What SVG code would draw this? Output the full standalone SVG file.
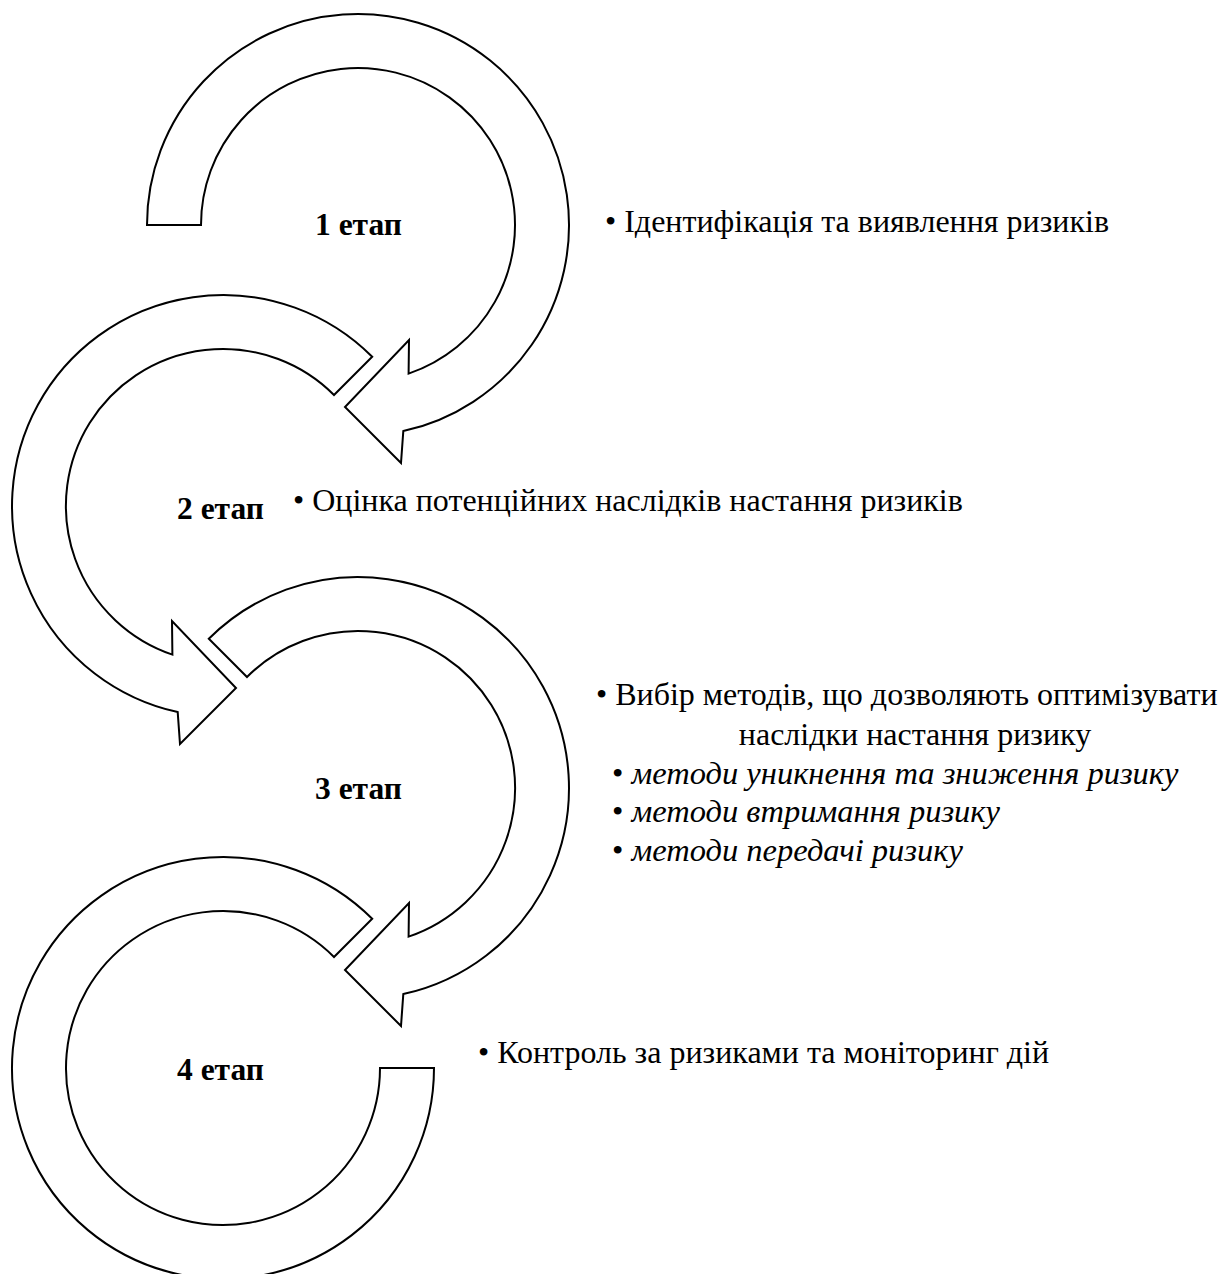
<svg xmlns="http://www.w3.org/2000/svg" width="1221" height="1274" viewBox="0 0 1221 1274">
<rect width="1221" height="1274" fill="#fff"/>
<g id="connectors" fill="#fff" stroke="#000" stroke-width="2" stroke-linejoin="miter">
<path id="arrow1" d="M147,225 A211,211 0 1 1 403.3,431.1 L401,463 L345,407 L409,340 L408.6,373.6 A157,157 0 1 0 201,225 Z"/>
<path id="arrow2" d="M372.2,356.8 A211,211 0 1 0 177.7,712.1 L180,744 L236,688 L172,621 L172.4,654.6 A157,157 0 1 1 334,395 Z"/>
<path id="arrow3" d="M208.8,638.8 A211,211 0 1 1 403.3,994.1 L401,1026 L345,970 L409,903 L408.6,936.6 A157,157 0 1 0 247,677 Z"/>
<path id="arrow4" d="M372.2,918.8 A211,211 0 1 0 434,1068 L380,1068 A157,157 0 1 1 334,957 Z"/>
</g>
<g id="stage1">
<text font-family="Liberation Serif" font-weight="bold" font-size="31.5" x="315" y="235">1 етап</text>
<text font-family="Liberation Serif" font-size="32" x="605" y="232">• Ідентифікація та виявлення ризиків</text>
</g>
<g id="stage2">
<text font-family="Liberation Serif" font-weight="bold" font-size="31.5" x="177" y="519">2 етап</text>
<text font-family="Liberation Serif" font-size="32" x="293" y="511">• Оцінка потенційних наслідків настання ризиків</text>
</g>
<g id="stage3">
<text font-family="Liberation Serif" font-weight="bold" font-size="31.5" x="315" y="799">3 етап</text>
<text font-family="Liberation Serif" font-size="32" x="596" y="705">• Вибір методів, що дозволяють оптимізувати</text>
<text font-family="Liberation Serif" font-size="32" x="915" y="745" text-anchor="middle">наслідки настання ризику</text>
<text font-family="Liberation Serif" font-size="32.5" x="612" y="784">• <tspan font-style="italic">методи уникнення та зниження ризику</tspan></text>
<text font-family="Liberation Serif" font-size="32.5" x="612" y="822">• <tspan font-style="italic">методи втримання ризику</tspan></text>
<text font-family="Liberation Serif" font-size="32.5" x="612" y="861">• <tspan font-style="italic">методи передачі ризику</tspan></text>
</g>
<g id="stage4">
<text font-family="Liberation Serif" font-weight="bold" font-size="31.5" x="177" y="1080">4 етап</text>
<text font-family="Liberation Serif" font-size="32" x="478" y="1063">• Контроль за ризиками та моніторинг дій</text>
</g>
</svg>
